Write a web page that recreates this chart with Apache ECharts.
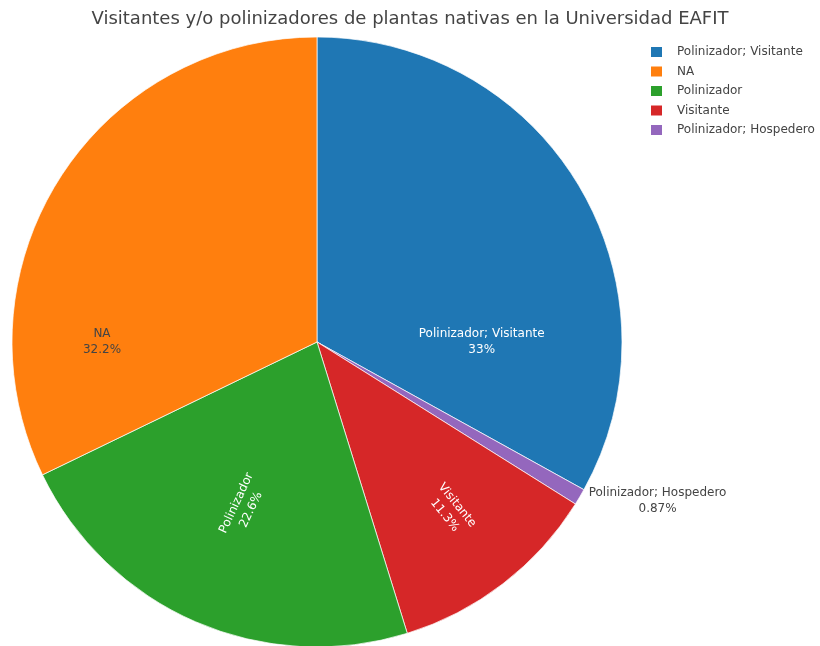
<!DOCTYPE html>
<html>
<head>
<meta charset="utf-8">
<script src="https://cdn.jsdelivr.net/npm/echarts@6/dist/echarts.min.js"></script>
<style>
  html, body { margin: 0; padding: 0; background: #fff; }
  #chart { width: 820px; height: 646px; }
</style>
</head>
<body>
<div id="chart"></div>
<script>
// Slices in drawing order (clockwise from 12 o'clock)
const categories = ['Polinizador; Visitante', 'Polinizador; Hospedero', 'Visitante', 'Polinizador', 'NA'];
const counts = [38, 1, 13, 26, 37];
// Legend order
const legendOrder = ['Polinizador; Visitante', 'NA', 'Polinizador', 'Visitante', 'Polinizador; Hospedero'];

const colors = {
  'Polinizador; Visitante': '#1f77b4',
  'NA': '#ff7f0e',
  'Polinizador': '#2ca02c',
  'Visitante': '#d62728',
  'Polinizador; Hospedero': '#9467bd'
};
const textColors = {
  'Polinizador; Visitante': '#fff',
  'NA': '#444',
  'Polinizador': '#fff',
  'Visitante': '#fff',
  'Polinizador; Hospedero': '#444'
};

const FONT = 'DejaVu Sans';
const pieCenter = [317, 342];
const pieRadius = 305;

// Label placement: angle (deg, clockwise from top), distance as fraction of radius, text rotation
const labelPlacement = {
  'Polinizador; Visitante': { angle: 90, dist: 0.54, rotate: 0 },
  'NA': { angle: 270, dist: 0.705, rotate: 0 },
  'Polinizador': { angle: 204, dist: 0.59, rotate: 65 },
  'Visitante': { angle: 141.5, dist: 0.705, rotate: -51 },
  'Polinizador; Hospedero': { angle: 115, dist: 1.232, rotate: 0 }
};

const total = counts.reduce((a, b) => a + b, 0);
const fmtPct = v => Number((v / total * 100).toPrecision(3)) + '%';

const chart = echarts.init(document.getElementById('chart'));
chart.setOption({
  animation: false,
  color: categories.map(c => colors[c]),
  title: {
    text: 'Visitantes y/o polinizadores de plantas nativas en la Universidad EAFIT',
    left: 'center',
    top: 5,
    textStyle: { fontFamily: FONT, fontSize: 18, fontWeight: 'normal', color: '#444' }
  },
  legend: {
    data: legendOrder,
    orient: 'vertical',
    left: 644,
    top: 40,
    icon: 'rect',
    itemWidth: 13,
    itemHeight: 12,
    itemGap: 5.5,
    textStyle: { fontFamily: FONT, fontSize: 12, color: '#444', padding: [0, 0, 0, 9] }
  },
  series: [{
    type: 'pie',
    center: pieCenter,
    radius: pieRadius,
    startAngle: 90,
    clockwise: true,
    avoidLabelOverlap: false,
    itemStyle: { borderColor: '#fff', borderWidth: 0.7 },
    label: {
      show: true,
      position: 'inside',
      fontFamily: FONT,
      fontSize: 12,
      lineHeight: 16,
      align: 'center',
      formatter: p => p.name + '\n' + fmtPct(p.value)
    },
    labelLine: { show: false },
    labelLayout: p => {
      const name = categories[p.dataIndex];
      const lp = labelPlacement[name];
      const a = lp.angle * Math.PI / 180;
      const r = lp.dist * pieRadius;
      return {
        x: pieCenter[0] + r * Math.sin(a),
        y: pieCenter[1] - r * Math.cos(a),
        rotate: lp.rotate,
        align: 'center',
        verticalAlign: 'middle'
      };
    },
    emphasis: { disabled: true },
    data: categories.map((c, i) => ({
      name: c,
      value: counts[i],
      label: { color: textColors[c] }
    }))
  }]
});
</script>
</body>
</html>
